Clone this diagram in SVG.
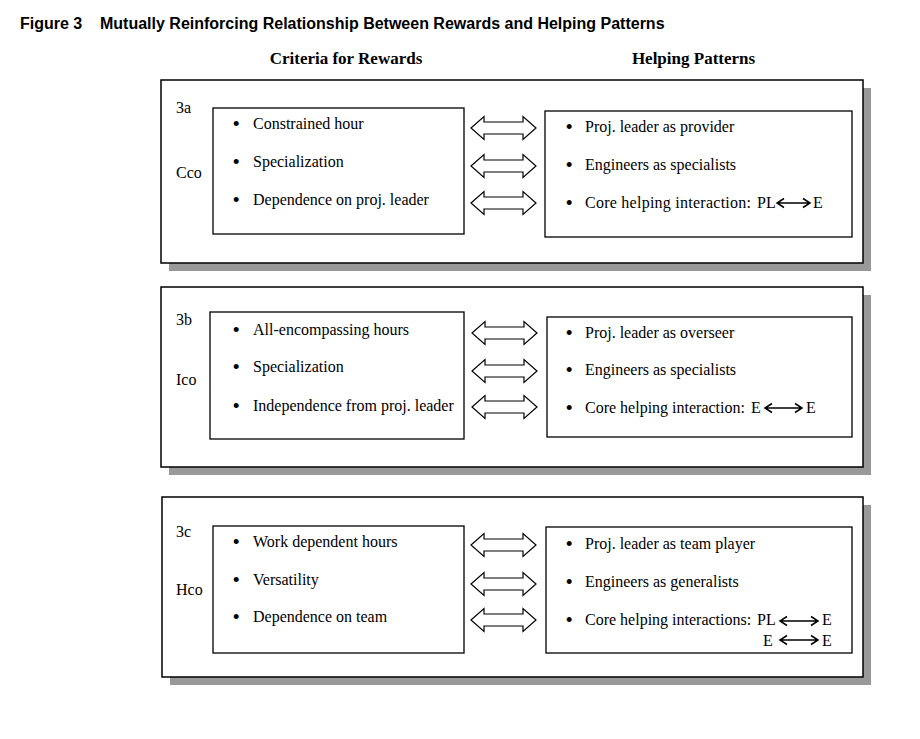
<svg xmlns="http://www.w3.org/2000/svg" width="920" height="739" viewBox="0 0 920 739">
<style>
.title{font-family:"Liberation Sans",Arial,sans-serif;font-weight:bold;font-size:16px;fill:#000}
.head{font-family:"Liberation Serif","Times New Roman",serif;font-weight:bold;font-size:17px;fill:#000}
.t{font-family:"Liberation Serif","Times New Roman",serif;font-size:16px;fill:#000}
.b{font-family:"Liberation Serif","Times New Roman",serif;font-size:21px;fill:#000}
.shadow{fill:#999}
.panel{fill:#fff;stroke:#000;stroke-width:1.5}
.box{fill:#fff;stroke:#000;stroke-width:1.3}
.barrow{fill:#fff;stroke:#000;stroke-width:1.2;stroke-linejoin:miter}
.sarrow{fill:none;stroke:#000;stroke-width:1.5}
</style>
<defs>
<path id="ba" class="barrow" d="M0,0 L13,-11.5 L13,-6 L52,-6 L52,-11.5 L65,0 L52,11.5 L52,6 L13,6 L13,11.5 Z"/>
</defs>
<rect width="920" height="739" fill="#fff"/>
<g id="title">
<text class="title" x="20" y="29">Figure 3</text>
<text class="title" x="100" y="29">Mutually Reinforcing Relationship Between Rewards and Helping Patterns</text>
</g>
<g id="headers">
<text class="head" x="346" y="64" text-anchor="middle">Criteria for Rewards</text>
<text class="head" x="693.5" y="64" text-anchor="middle">Helping Patterns</text>
</g>
<g id="panel-3a">
<rect class="shadow" x="169" y="88" width="702" height="183"/>
<rect class="panel" x="161" y="80" width="702" height="183"/>
<text class="t" x="176" y="113">3a</text>
<text class="t" x="176" y="178">Cco</text>
</g>
<g id="panel-3b">
<rect class="shadow" x="169" y="295" width="702" height="180"/>
<rect class="panel" x="161" y="287" width="702" height="180"/>
<text class="t" x="176" y="325">3b</text>
<text class="t" x="176" y="385">Ico</text>
</g>
<g id="panel-3c">
<rect class="shadow" x="170" y="505" width="701" height="180"/>
<rect class="panel" x="162" y="497" width="701" height="180"/>
<text class="t" x="176" y="537">3c</text>
<text class="t" x="176" y="595">Hco</text>
</g>
<g id="criteria-3a">
<rect class="box" x="213" y="108" width="251" height="126"/>
<text class="b" x="232.5" y="131">•</text><text class="t" x="253" y="129">Constrained hour</text>
<text class="b" x="232.5" y="169">•</text><text class="t" x="253" y="167">Specialization</text>
<text class="b" x="232.5" y="207">•</text><text class="t" x="253" y="205">Dependence on proj. leader</text>
</g>
<g id="helping-3a">
<rect class="box" x="545" y="111" width="307" height="126"/>
<text class="b" x="565.5" y="134">•</text><text class="t" x="585" y="132">Proj. leader as provider</text>
<text class="b" x="565.5" y="172">•</text><text class="t" x="585" y="170">Engineers as specialists</text>
<text class="b" x="565.5" y="210">•</text><text class="t" x="585" y="208" textLength="166" lengthAdjust="spacing">Core helping interaction:</text>
<text class="t" x="757" y="208">PL</text>
<text class="t" x="813" y="208">E</text>
</g>
<g id="criteria-3b">
<rect class="box" x="210" y="312" width="254" height="127"/>
<text class="b" x="232.5" y="337">•</text><text class="t" x="253" y="335">All-encompassing hours</text>
<text class="b" x="232.5" y="374">•</text><text class="t" x="253" y="372">Specialization</text>
<text class="b" x="232.5" y="413">•</text><text class="t" x="253" y="411">Independence from proj. leader</text>
</g>
<g id="helping-3b">
<rect class="box" x="547" y="317" width="305" height="120"/>
<text class="b" x="565.5" y="340">•</text><text class="t" x="585" y="338">Proj. leader as overseer</text>
<text class="b" x="565.5" y="377">•</text><text class="t" x="585" y="375">Engineers as specialists</text>
<text class="b" x="565.5" y="415">•</text><text class="t" x="585" y="413">Core helping interaction:</text>
<text class="t" x="751" y="413">E</text>
<text class="t" x="806" y="413">E</text>
</g>
<g id="criteria-3c">
<rect class="box" x="213" y="526" width="251" height="127"/>
<text class="b" x="232.5" y="549">•</text><text class="t" x="253" y="547">Work dependent hours</text>
<text class="b" x="232.5" y="587">•</text><text class="t" x="253" y="585">Versatility</text>
<text class="b" x="232.5" y="624">•</text><text class="t" x="253" y="622">Dependence on team</text>
</g>
<g id="helping-3c">
<rect class="box" x="546" y="527" width="306" height="126"/>
<text class="b" x="565.5" y="551">•</text><text class="t" x="585" y="549">Proj. leader as team player</text>
<text class="b" x="565.5" y="589">•</text><text class="t" x="585" y="587">Engineers as generalists</text>
<text class="b" x="565.5" y="627">•</text><text class="t" x="585" y="625">Core helping interactions:</text>
<text class="t" x="757" y="625">PL</text>
<text class="t" x="822" y="625">E</text>
<text class="t" x="763" y="646">E</text>
<text class="t" x="822" y="646">E</text>
</g>
<g id="connectors">
<use href="#ba" x="471" y="128"/>
<use href="#ba" x="471" y="166"/>
<use href="#ba" x="471" y="203"/>
<use href="#ba" x="472" y="333"/>
<use href="#ba" x="472" y="371"/>
<use href="#ba" x="472" y="407"/>
<use href="#ba" x="471" y="545"/>
<use href="#ba" x="471" y="584"/>
<use href="#ba" x="471" y="620"/>
<path class="sarrow" d="M777,203 H810 M784,198.5 L777,203 L784,207.5 M803,198.5 L810,203 L803,207.5"/>
<path class="sarrow" d="M765,408 H802 M772,403.5 L765,408 L772,412.5 M795,403.5 L802,408 L795,412.5"/>
<path class="sarrow" d="M780,621 H818 M787,616.5 L780,621 L787,625.5 M811,616.5 L818,621 L811,625.5"/>
<path class="sarrow" d="M780,640 H818 M787,635.5 L780,640 L787,644.5 M811,635.5 L818,640 L811,644.5"/>
</g>
</svg>
